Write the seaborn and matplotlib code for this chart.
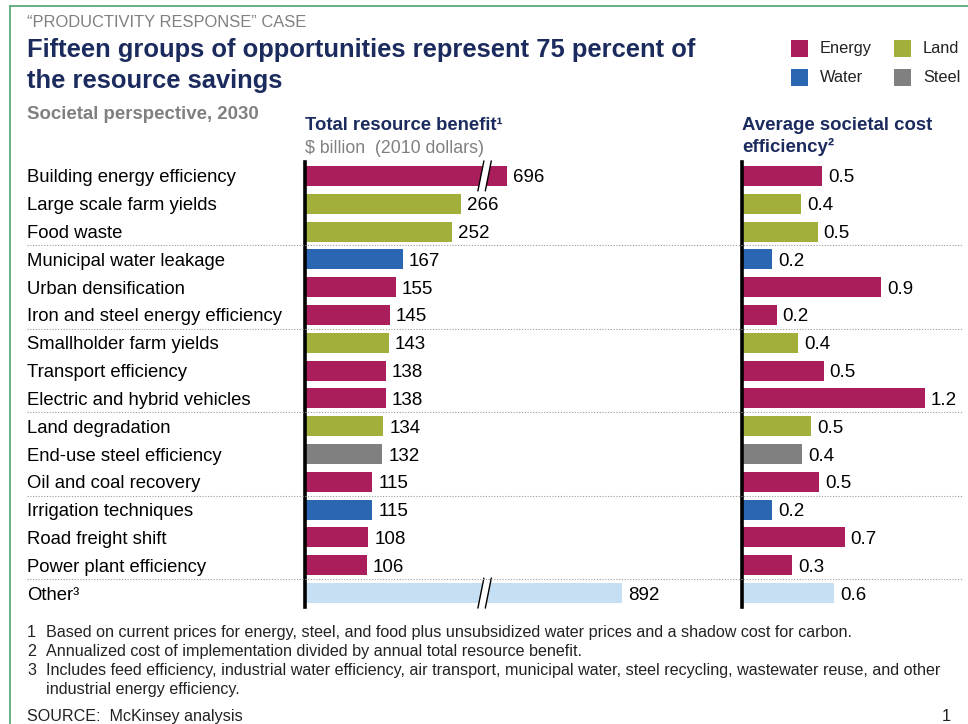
import matplotlib
matplotlib.use("Agg")
import matplotlib.pyplot as plt
import matplotlib.transforms as mtransforms
from matplotlib.lines import Line2D
from matplotlib.patches import Rectangle, Polygon
import seaborn as sns
import pandas as pd

# data
labels = ["Building energy efficiency", "Large scale farm yields", "Food waste",
          "Municipal water leakage", "Urban densification",
          "Iron and steel energy efficiency", "Smallholder farm yields",
          "Transport efficiency", "Electric and hybrid vehicles",
          "Land degradation", "End-use steel efficiency", "Oil and coal recovery",
          "Irrigation techniques", "Road freight shift", "Power plant efficiency",
          "Other\u00b3"]
benefit = [696, 266, 252, 167, 155, 145, 143, 138, 138, 134, 132, 115, 115, 108, 106, 892]
cost_eff = [0.53, 0.39, 0.50, 0.20, 0.92, 0.23, 0.37, 0.54, 1.21, 0.46, 0.40, 0.51,
            0.20, 0.68, 0.33, 0.61]
resource = ["Energy", "Land", "Land", "Water", "Energy", "Energy", "Land", "Energy",
            "Energy", "Land", "Steel", "Energy", "Water", "Energy", "Energy", "Other"]
group_breaks = [2.5, 5.5, 8.5, 11.5, 14.5]
legend_items = ["Energy", "Land", "Water", "Steel"]

palette = {"Energy": "#AA1E5B", "Land": "#A2AF3A", "Water": "#2A66B1",
           "Steel": "#808080", "Other": "#C6DFF2"}
NAVY = "#1C2B5E"
GREY = "#808080"

# axis break for the two very long bars
BREAK_MIN = 600
BREAK_GAP = 350
BREAK_AT = 307

W, H = 968, 724


def fx(px):
    return px / W


def fy(py):
    return 1 - py / H


sns.set_theme(style="white")
plt.rcParams["font.family"] = ["Liberation Sans", "DejaVu Sans"]

df = pd.DataFrame({"label": labels, "benefit": benefit, "cost": cost_eff,
                   "resource": resource})
df["shown"] = [v - BREAK_GAP if v > BREAK_MIN else v for v in benefit]

fig = plt.figure(figsize=(W / 100, H / 100), dpi=100)
ax1 = fig.add_axes([fx(305), fy(607), 400 / W, 445 / H])
ax2 = fig.add_axes([fx(742), fy(607), 220 / W, 445 / H])

sns.barplot(data=df, x="shown", y="label", hue="resource", palette=palette,
            dodge=False, legend=False, width=0.72, saturation=1, linewidth=0,
            ax=ax1)
sns.barplot(data=df, x="cost", y="label", hue="resource", palette=palette,
            dodge=False, legend=False, width=0.72, saturation=1, linewidth=0,
            ax=ax2)

ax1.set_xlim(0, 400 / 0.585)
ax2.set_xlim(0, 220 / 151)
for ax in (ax1, ax2):
    ax.set_ylim(15.5, -0.5)
    ax.set_xticks([])
    ax.set_yticks([])
    ax.set_xlabel("")
    ax.set_ylabel("")
    for s in ["top", "right", "bottom"]:
        ax.spines[s].set_visible(False)
    ax.spines["left"].set_color("black")
    ax.spines["left"].set_linewidth(2.6)
    ax.patch.set_alpha(0)

# value labels
for i, (s, v) in enumerate(zip(df["shown"], df["benefit"])):
    ax1.annotate(f"{v}", (s, i), xytext=(6, 0), textcoords="offset pixels",
                 va="center_baseline", ha="left", fontsize=13.5, color="black")
for i, v in enumerate(df["cost"]):
    ax2.annotate(f"{v:.1f}", (v, i), xytext=(6, 0), textcoords="offset pixels",
                 va="center_baseline", ha="left", fontsize=13.5, color="black")

# break marks
ux = ax1.get_xlim()[1] / 400
uy = 16 / 445
for i, v in enumerate(benefit):
    if v > BREAK_MIN:
        pts = [(-6.7, 15), (-0.7, -15), (6.7, -15), (0.7, 15)]
        poly = [(BREAK_AT + dx * ux, i + dy * uy) for dx, dy in pts]
        ax1.add_patch(Polygon(poly, closed=True, facecolor="white",
                              edgecolor="none", clip_on=False, zorder=5))
        for (a, b) in [((-6.7, 15), (-0.7, -15)), ((0.7, 15), (6.7, -15))]:
            ax1.add_line(Line2D([BREAK_AT + a[0] * ux, BREAK_AT + b[0] * ux],
                                [i + a[1] * uy, i + b[1] * uy], color="black",
                                lw=1, clip_on=False, zorder=6))

# row labels and dotted group separators
trans = mtransforms.blended_transform_factory(fig.transFigure, ax1.transData)
for i, lab in enumerate(labels):
    fig.text(fx(27), i, lab, transform=trans, ha="left", va="center_baseline",
             fontsize=13.3, color="black")
for y in group_breaks:
    fig.add_artist(Line2D([fx(27), fx(962)], [y, y], transform=trans,
                          color="#9A9A9A", lw=0.8, ls=(0, (1, 1.5))))

# headings
fig.text(fx(27), fy(27), "\u201cPRODUCTIVITY RESPONSE\u201d CASE", fontsize=11.9,
         color=GREY, va="baseline", ha="left")
fig.text(fx(27), fy(57), "Fifteen groups of opportunities represent 75 percent of",
         fontsize=18.4, fontweight="bold", color=NAVY, va="baseline", ha="left")
fig.text(fx(27), fy(88), "the resource savings", fontsize=18.4,
         fontweight="bold", color=NAVY, va="baseline", ha="left")
fig.text(fx(27), fy(119), "Societal perspective, 2030", fontsize=13.4,
         fontweight="bold", color=GREY, va="baseline", ha="left")
fig.text(fx(305), fy(130), "Total resource benefit\u00b9", fontsize=13.3,
         fontweight="bold", color=NAVY, va="baseline", ha="left")
fig.text(fx(305), fy(153), "$ billion  (2010 dollars)",
         fontsize=12.8, color=GREY, va="baseline", ha="left")
fig.text(fx(742), fy(130), "Average societal cost", fontsize=13.4,
         fontweight="bold", color=NAVY, va="baseline", ha="left")
fig.text(fx(742), fy(152), "efficiency\u00b2", fontsize=13.4,
         fontweight="bold", color=NAVY, va="baseline", ha="left")

# legend
leg_pos = [(791, 40), (894, 40), (791, 69), (894, 69)]
for name, (lx, ly) in zip(legend_items, leg_pos):
    fig.add_artist(Rectangle((fx(lx), fy(ly + 17)), 17 / W, 17 / H,
                             transform=fig.transFigure, facecolor=palette[name],
                             edgecolor="none"))
    fig.text(fx(lx + 29), fy(ly + 8.5), name, fontsize=11.8, color="#222222",
             va="center", ha="left")

# footnotes
notes = [("1", "Based on current prices for energy, steel, and food plus unsubsidized "
               "water prices and a shadow cost for carbon."),
         ("2", "Annualized cost of implementation divided by annual total resource benefit."),
         ("3", "Includes feed efficiency, industrial water efficiency, air transport, "
               "municipal water, steel recycling, wastewater reuse, and other"),
         ("", "industrial energy efficiency.")]
for k, (num, txt) in enumerate(notes):
    yy = fy(637 + 19 * k)
    fig.text(fx(27), yy, num, fontsize=11.6, color="#222222", va="baseline", ha="left")
    fig.text(fx(46), yy, txt, fontsize=11.6, color="#222222", va="baseline", ha="left")
fig.text(fx(27), fy(721), "SOURCE:  McKinsey analysis", fontsize=11.6,
         color="#222222", va="baseline", ha="left")
fig.text(fx(946), fy(721), "1", fontsize=11.6, color="#222222", va="baseline",
         ha="center")

# green frame
frame = "#4BA36F"
fig.add_artist(Line2D([fx(10), 1], [fy(6), fy(6)], color=frame, lw=1.2))
fig.add_artist(Line2D([fx(10), fx(10)], [fy(6), 0], color=frame, lw=1.2))

fig.savefig("out.png", dpi=100, facecolor="white")
